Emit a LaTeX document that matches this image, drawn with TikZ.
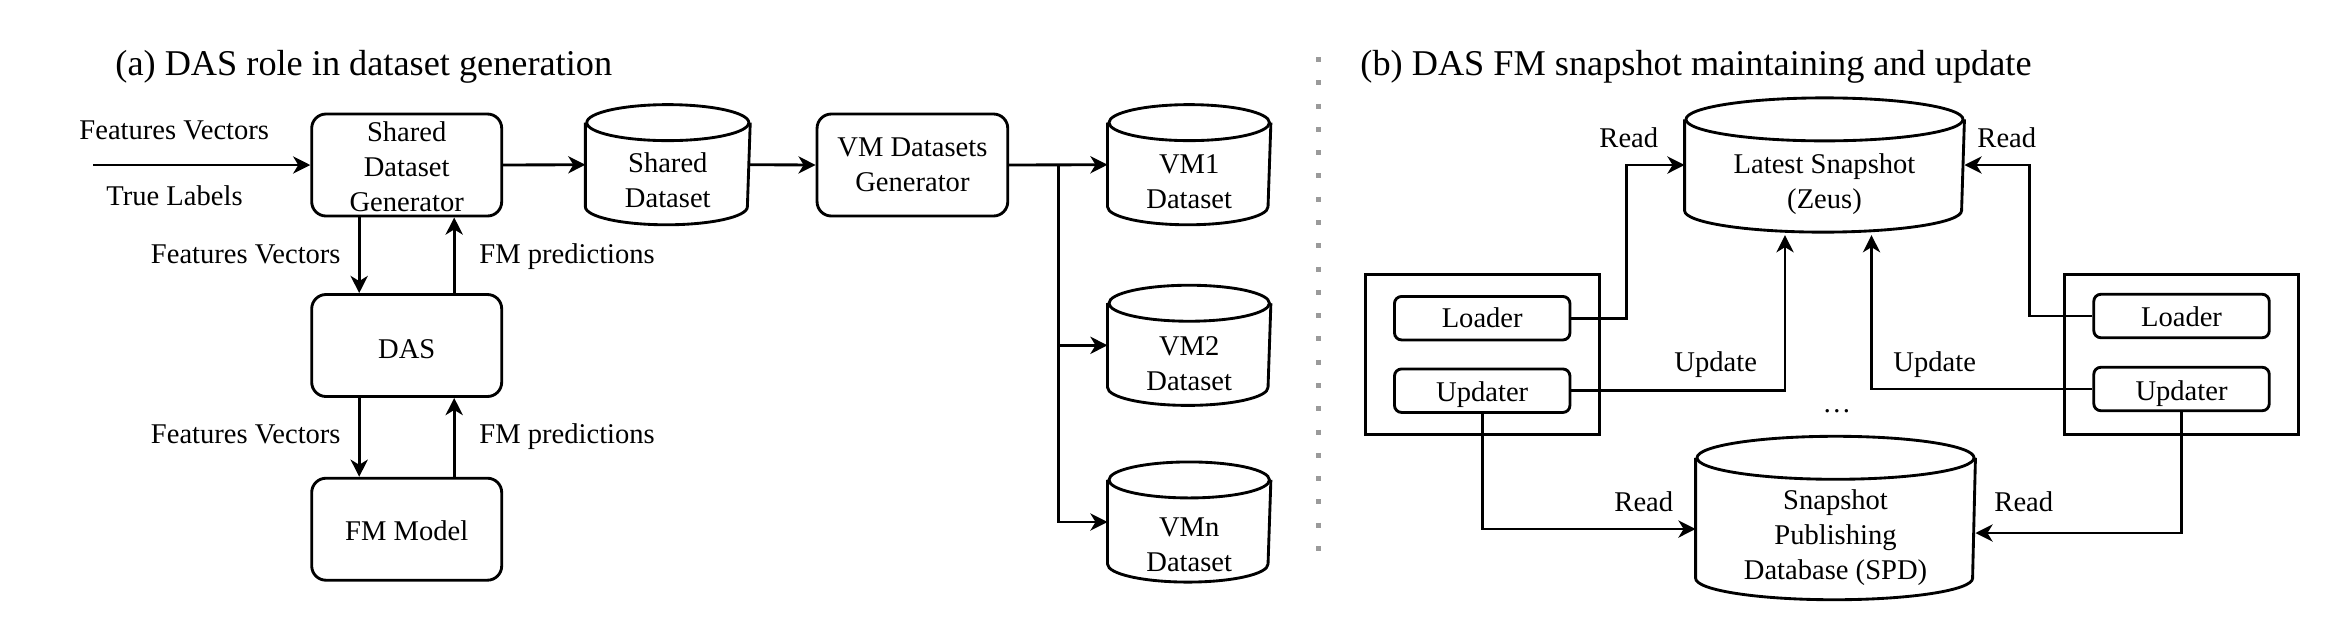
\documentclass[tikz,border=0pt]{standalone}
\usepackage{fontspec}
\setmainfont{Liberation Serif}
\usetikzlibrary{arrows.meta,calc}
\newdimen\pxu \pxu=0.35pt
\definecolor{divgray}{HTML}{9A9A9A}
% #1 node name, #2 x radius (px), #3 y radius (px)
\newcommand\drawcyl[3]{%
  \draw ($(#1.north west)+(0,#3)$) -- ($(#1.south west)+(0,-#3)$)
        arc[start angle=180, end angle=0, x radius=#2, y radius=#3]
        -- ($(#1.north east)+(0,#3)$);
  \draw ($(#1.north)+(0,#3)$) ellipse[x radius=#2, y radius=#3];
}
\begin{document}
\begin{tikzpicture}[x=0.35pt, y=-0.35pt, line width=1pt,
  >={Stealth[length=6pt,width=6pt,inset=1.8pt]},
  every node/.style={font=\fontsize{10}{12.25}\selectfont},
  ttl/.style={font=\fontsize{12.7}{15}\selectfont, inner sep=0pt},
  lbl/.style={inner sep=0pt},
  rbox/.style={draw, rounded corners=5pt, inner sep=0pt, align=center,
               minimum width=190\pxu, minimum height=102\pxu},
  sbox/.style={draw, rounded corners=2.5pt, inner sep=0pt, align=center,
               minimum width=175.5\pxu, minimum height=43.5\pxu},
  grp/.style={draw, inner sep=0pt, minimum width=234\pxu, minimum height=160\pxu},
  cylnode/.style={inner sep=0pt, align=center},
  arr/.style={->},
  divider/.style={divgray, line width=1.75pt, dash pattern=on 1.75pt off 6.4pt}
]
\useasboundingbox (0,0) rectangle (2334,640);

% titles
\node[ttl, anchor=base west] (ta) at (114,75) {(a) DAS role in dataset generation};
\node[ttl, anchor=base west] (tb) at (1359,75) {(b) DAS FM snapshot maintaining and update};

% divider
\coordinate (d1) at (1318,57);
\coordinate (d2) at (1318,556);
\draw[divider] (d1) -- (d2);

% ---------- part (a) ----------
\node[rbox, text height=32.7pt, text depth=0pt] (sdg) at (406.7,165) {Shared\\Dataset\\Generator};
\node[rbox, text height=8.75pt, text depth=0pt] (das) at (406.7,345.5) {DAS};
\node[rbox, text height=7.7pt, text depth=0pt] (fm) at (406.7,529.2) {FM Model};
\node[rbox, minimum width=190.7\pxu, text height=18.7pt, text depth=0pt] (vmdg) at (912.4,165) {VM Datasets\\Generator};

\node[cylnode, minimum width=162\pxu, minimum height=117.3\pxu, text height=30.3pt, text depth=0pt] (sd) at (667.8,164.7) {Shared\\Dataset};
\node[cylnode, minimum width=160.5\pxu, minimum height=117.3\pxu, text height=31pt, text depth=0pt] (vm1) at (1189.2,164.7) {VM1\\Dataset};
\node[cylnode, minimum width=160.5\pxu, minimum height=117.3\pxu, text height=31.3pt, text depth=0pt] (vm2) at (1189.2,345.3) {VM2\\Dataset};
\node[cylnode, minimum width=160.5\pxu, minimum height=117.3\pxu, text height=34.8pt, text depth=0pt] (vmn) at (1189.2,522) {VMn\\Dataset};
\drawcyl{sd}{81}{18}
\drawcyl{vm1}{80.25}{18}
\drawcyl{vm2}{80.25}{18}
\drawcyl{vmn}{80.25}{18}

% labels (a)
\node[lbl, anchor=base west] (lfv0) at (78,139.3) {Features Vectors};
\node[lbl, anchor=base west] (ltl) at (105,205.7) {True Labels};
\node[lbl, anchor=base east] (lfv1) at (342,263) {Features Vectors};
\node[lbl, anchor=base west] (lfp1) at (478,263) {FM predictions};
\node[lbl, anchor=base east] (lfv2) at (342,443.3) {Features Vectors};
\node[lbl, anchor=base west] (lfp2) at (478,443.3) {FM predictions};

% connectors (a)
\coordinate (in) at (93,165);
\draw[arr] (in) -- (sdg.west);
\draw[arr] (sdg.east) -- (sd.west);
\draw[arr] (sd.east) -- (vmdg.west);
\draw[arr] (vmdg.east) -- (vm1.west);
\coordinate (br) at (1058.5,165);
\draw[arr] (br) |- (vm2.west);
\draw[arr] (br) |- (vmn.west);
\draw[arr] ($(sdg.south)+(-47.5,0)$) -- ($(das.north)+(-47.5,0)$);
\draw[arr] ($(das.north)+(47.5,0)$) -- ($(sdg.south)+(47.5,0)$);
\draw[arr] ($(das.south)+(-47.5,0)$) -- ($(fm.north)+(-47.5,0)$);
\draw[arr] ($(fm.north)+(47.5,0)$) -- ($(das.south)+(47.5,0)$);

% ---------- part (b) ----------
\node[cylnode, minimum width=277\pxu, minimum height=131.4\pxu, text height=30.1pt, text depth=0pt] (lat) at (1824.5,165) {Latest Snapshot\\(Zeus)};
\node[cylnode, minimum width=277\pxu, minimum height=160.6\pxu, text height=42.7pt, text depth=0pt] (spd) at (1835.5,518) {Snapshot\\Publishing\\Database (SPD)};
\drawcyl{lat}{138.5}{21.5}
\drawcyl{spd}{138.5}{21.5}

\node[grp] (grpl) at (1482.2,354.3) {};
\node[grp] (grpr) at (2181.5,354.3) {};
\node[sbox, text height=6.5pt, text depth=0pt] (ldl) at (1482.2,318.2) {Loader};
\node[sbox, text height=7.7pt, text depth=0pt] (upl) at (1482.2,390.7) {Updater};
\node[sbox, text height=7.5pt, text depth=0pt] (ldr) at (2181.5,316) {Loader};
\node[sbox, text height=7.7pt, text depth=0pt] (upr) at (2181.5,389) {Updater};

% labels (b)
\node[lbl, anchor=base west] (lr1) at (1598,147.3) {Read};
\node[lbl, anchor=base west] (lr2) at (1976,147.3) {Read};
\node[lbl, anchor=base west] (lu1) at (1673,371.7) {Update};
\node[lbl, anchor=base west] (lu2) at (1892,371.7) {Update};
\node[lbl, anchor=base west] (lr3) at (1613,511.7) {Read};
\node[lbl, anchor=base west] (lr4) at (1993,511.7) {Read};
\node[lbl, anchor=base] (dots) at (1837,412) {\ldots};

% connectors (b)
\draw[arr] (ldl.east) -| ($(lat.west)+(-58,0)$) -- (lat.west);
\draw[arr] (ldr.west) -| ($(lat.east)+(65,0)$) -- (lat.east);
\draw[arr] (upl.east) -| ($(lat.south)+(-39.5,3)$);
\draw[arr] (upr.west) -| ($(lat.south)+(47,3)$);
\draw[arr] (upl.south) |- ($(spd.west)+(0,11)$);
\draw[arr] (upr.south) |- ($(spd.east)+(0,15)$);
\end{tikzpicture}
\end{document}
